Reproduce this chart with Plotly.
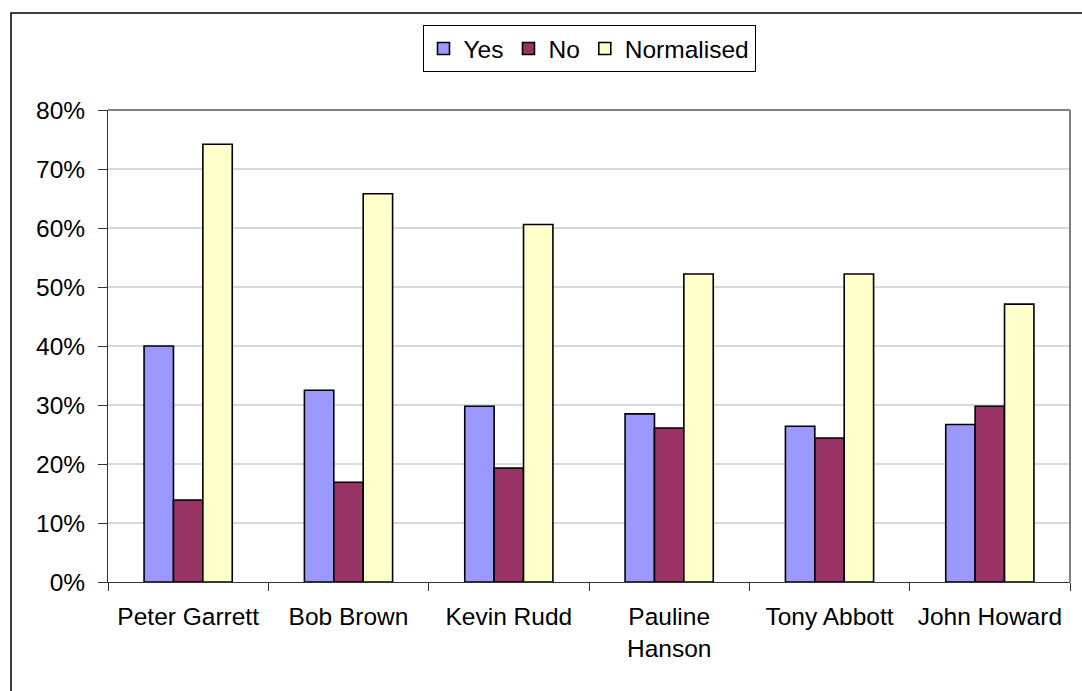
import plotly.graph_objects as go

# Survey results per public figure (fractions of respondents)
candidates = ["Peter Garrett", "Bob Brown", "Kevin Rudd", "Pauline<br>Hanson", "Tony Abbott", "John Howard"]
yes_share = [0.400, 0.325, 0.298, 0.285, 0.264, 0.267]
no_share = [0.139, 0.169, 0.193, 0.261, 0.244, 0.298]
normalised_share = [0.742, 0.658, 0.606, 0.522, 0.522, 0.471]

y_ticks = [0, 0.1, 0.2, 0.3, 0.4, 0.5, 0.6, 0.7, 0.8]
y_tick_text = ["0%", "10%", "20%", "30%", "40%", "50%", "60%", "70%", "80%"]

FONT = "Liberation Sans, Arial, sans-serif"
FS = 24.5
W, H = 1082, 691
L, R, T, B = 108, 12, 110, 109
pw, ph = W - L - R, H - T - B


def px_x(x):
    return (x - L) / pw


def px_y(y):
    return (H - B - y) / ph


series = [
    ("Yes", yes_share, "#9999FF"),
    ("No", no_share, "#993366"),
    ("Normalised", normalised_share, "#FFFFCC"),
]

fig = go.Figure()
for name, vals, color in series:
    fig.add_trace(go.Bar(
        x=candidates, y=vals, name=name,
        marker=dict(color=color, line=dict(color="#000000", width=1.6)),
    ))

fig.update_layout(
    width=W, height=H,
    margin=dict(l=L, r=R, t=T, b=B),
    paper_bgcolor="#FFFFFF", plot_bgcolor="#FFFFFF",
    font=dict(family=FONT, size=FS, color="#000000"),
    barmode="group", bargap=0.45, bargroupgap=0,
    showlegend=True,
    legend=dict(
        orientation="h", x=0.5, xanchor="center", y=px_y(25), yanchor="top",
        bordercolor="#000000", borderwidth=1, bgcolor="#FFFFFF",
        font=dict(family=FONT, size=FS, color="#000000"),
        itemwidth=30, tracegroupgap=0,
    ),
    xaxis=dict(
        showgrid=False, showline=True, linecolor="#333333", linewidth=1,
        ticks="outside", tickson="boundaries", ticklen=8, tickcolor="#333333",
        ticklabelstandoff=13,
        tickfont=dict(family=FONT, size=FS), fixedrange=True,
    ),
    yaxis=dict(
        range=[0, 0.8], tickvals=y_ticks, ticktext=y_tick_text,
        showgrid=True, gridcolor="#D9D9D9", gridwidth=1.5,
        showline=True, linecolor="#333333", linewidth=1,
        ticks="outside", ticklen=9, tickcolor="#333333",
        ticklabelstandoff=8,
        zeroline=False, tickfont=dict(family=FONT, size=FS), fixedrange=True,
    ),
    shapes=[
        # plot-area frame on the top and right sides
        dict(type="line", xref="paper", yref="paper", x0=0, x1=1, y0=1, y1=1,
             line=dict(color="#808080", width=2)),
        dict(type="line", xref="paper", yref="paper", x0=1, x1=1, y0=0, y1=1,
             line=dict(color="#808080", width=2)),
        # outer chart border
        dict(type="rect", xref="paper", yref="paper",
             x0=px_x(11), x1=px_x(1200), y0=px_y(800), y1=px_y(13),
             line=dict(color="#000000", width=1.5), fillcolor="rgba(0,0,0,0)",
             layer="below"),
    ],
)

fig.write_html("out.html")
